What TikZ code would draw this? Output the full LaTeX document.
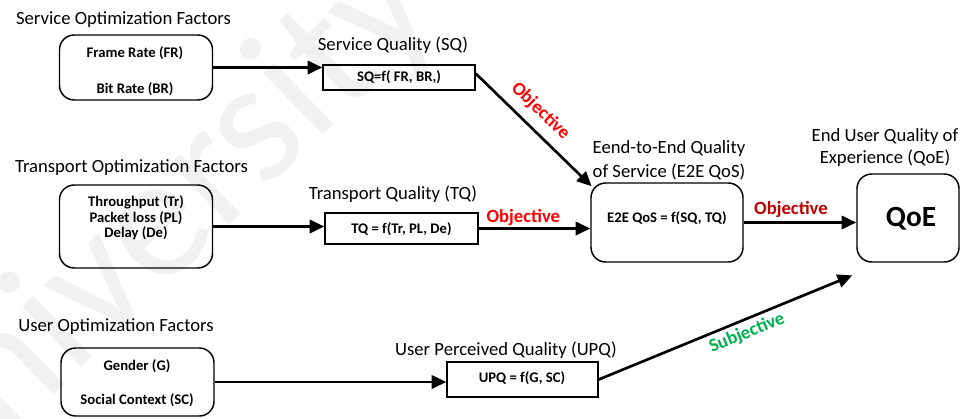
\documentclass[tikz,border=0pt]{standalone}
\usepackage{fontspec}
\setmainfont{Carlito}
\usetikzlibrary{arrows.meta}
\definecolor{objred}{HTML}{FF0000}
\definecolor{objdark}{HTML}{C00000}
\definecolor{subgreen}{HTML}{00B050}
\definecolor{wmark}{HTML}{F1F1F1}
\begin{document}
\begin{tikzpicture}[x=0.75pt,y=-0.75pt,
  lbl/.style={font=\fontsize{14}{18}\selectfont, inner sep=0pt, align=center},
  txt/.style={font=\bfseries\fontsize{11}{15.5}\selectfont, inner sep=0pt, align=center},
  factor/.style={draw, line width=1.1pt, rounded corners=11pt, inner sep=0pt,
                 minimum width=114.75pt},
  fbox/.style={draw, line width=1.1pt, inner sep=0pt},
  conn/.style={line width=2pt, -{Triangle[length=11pt,width=10pt]}},
  tag/.style={font=\bfseries\fontsize{14}{16}\selectfont, inner sep=0pt}
]
\useasboundingbox (0,0) rectangle (961,418);

% faint background watermark
\node[text=wmark, font=\fontsize{133}{140}\selectfont, rotate=44, inner sep=0pt]
  (wm) at (151,236) {University};

% ---- left column: optimization factors ----
\node[lbl] (svclbl) at (123.5,20) {Service Optimization Factors};
\node[factor, minimum height=48.75pt] (fr) at (136,67.5) {};
\node[txt] (frt1) at (135,53) {Frame Rate (FR)};
\node[txt] (frt2) at (135,89) {Bit Rate (BR)};

\node[lbl] (trlbl) at (131.5,168) {Transport Optimization Factors};
\node[factor, minimum height=62.25pt] (tr) at (136,226.5) {};
\node[txt] (trt) at (136,218) {Throughput (Tr)\\[-4pt]Packet loss (PL)\\[-4pt]Delay (De)};

\node[lbl] (usrlbl) at (116,327) {User Optimization Factors};
\node[factor, minimum height=51pt] (g) at (137.5,382) {};
\node[txt] (gt1) at (137,366) {Gender (G)};
\node[txt] (gt2) at (137,400) {Social Context (SC)};

% ---- middle column: quality functions ----
\node[lbl] (sqlbl) at (393,45) {Service Quality (SQ)};
\node[fbox, minimum width=114pt, minimum height=18.75pt] (sq) at (399,77.5) {};
\node[txt] (sqt) at (399,77) {SQ=f( FR, BR,)};

\node[lbl] (tqlbl) at (393,194) {Transport Quality (TQ)};
\node[fbox, minimum width=114.75pt, minimum height=23.25pt] (tq) at (401.5,228.5) {};
\node[txt] (tqt) at (401.5,229) {TQ = f(Tr, PL, De)};

\node[lbl] (upqlbl) at (506,350) {User Perceived Quality (UPQ)};
\node[fbox, minimum width=113.25pt, minimum height=26.25pt] (upq) at (522.5,379.5) {};
\node[txt] (upqt) at (522,378) {UPQ = f(G, SC)};

% ---- end-to-end QoS ----
\node[lbl, font=\fontsize{14}{18}\selectfont] (e2elbl) at (669,160)
  {Eend-to-End Quality\\of Service (E2E QoS)};
\node[factor, minimum width=114pt, minimum height=59.25pt] (e2e) at (667,222.5) {};
\node[txt] (e2et) at (667,218) {E2E QoS = f(SQ, TQ)};

% ---- QoE ----
\node[lbl, font=\fontsize{14}{16.5}\selectfont] (qoelbl) at (885,148)
  {End User Quality of\\Experience (QoE)};
\node[factor, minimum width=76.5pt, minimum height=66pt] (qoe) at (908,218) {};
\node[font=\bfseries\fontsize{22}{24}\selectfont, inner sep=0pt] (qoet) at (911,219) {QoE};

% ---- connectors ----
\draw[conn] (fr.east) -- (fr.east -| sq.west);
\draw[conn] (tr.east) -- (tr.east -| tq.west);
\draw[conn] (g.east) -- (g.east -| upq.west);

\draw[conn] ([yshift=3pt]sq.east) -- node[tag, text=objred, sloped, above=6.5pt, pos=0.45] {Objective}
  ([xshift=1pt,yshift=-3pt]e2e.north west);
\draw[conn] (tq.east) -- node[tag, text=objred, above=1pt, pos=0.4] {Objective}
  (tq.east -| e2e.west);
\draw[conn] (e2e.east) -- node[tag, text=objdark, above=3pt, pos=0.42] {Objective}
  (e2e.east -| qoe.west);

\coordinate (qoein) at ([xshift=-3pt,yshift=-9.5pt]qoe.south west);
\draw[conn] (upq.east) -- node[tag, text=subgreen, sloped, below=3pt, pos=0.565] {Subjective}
  (qoein);
\end{tikzpicture}
\end{document}
